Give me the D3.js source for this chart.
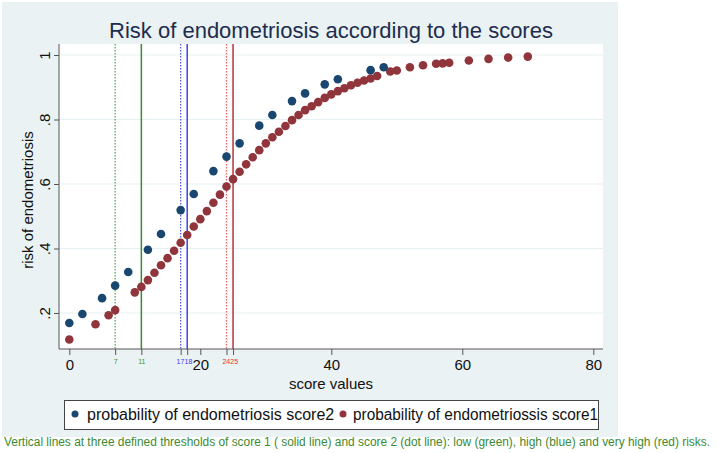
<!DOCTYPE html>
<html><head><meta charset="utf-8">
<script src="https://cdn.jsdelivr.net/npm/d3@7"></script>
<style>body{margin:0;background:#fff}svg{display:block}text{font-family:"Liberation Sans",Arial,sans-serif}</style>
</head><body><svg id="c" width="722" height="453"></svg>
<script>
const score2X = [0,2,5,7,9,12,14,17,19,22,24,26,29,31,34,36,39,41,46,48];
const score2Y = [0.169,0.197,0.246,0.285,0.327,0.396,0.445,0.519,0.569,0.640,0.685,0.726,0.781,0.814,0.857,0.881,0.909,0.925,0.953,0.962];
const score1X = [0,4,6,7,10,11,12,13,14,15,16,17,18,19,20,21,22,23,24,25,26,27,28,29,30,31,32,33,34,35,36,37,38,39,40,41,42,43,44,45,46,47,49,50,52,54,56,57,58,61,64,67,70];
const score1Y = [0.118,0.165,0.193,0.209,0.264,0.281,0.302,0.325,0.348,0.370,0.393,0.418,0.442,0.468,0.491,0.516,0.542,0.567,0.592,0.615,0.638,0.661,0.683,0.705,0.726,0.745,0.762,0.780,0.798,0.814,0.829,0.841,0.854,0.867,0.878,0.888,0.897,0.906,0.914,0.921,0.927,0.935,0.949,0.952,0.962,0.968,0.973,0.974,0.976,0.983,0.988,0.992,0.995];
const xTicks = [0,20,40,60,80];
const yTicks = [0.2,0.4,0.6,0.8,1];
const yTickLabels = [".2",".4",".6",".8","1"];
const thresholds = [
  {v:7, style:"dot", color:"#4fae4f", label:"7", lc:"#2f9a2f", anchor:"middle"},
  {v:11, style:"solid", color:"#3a8a2e", label:"11", lc:"#2f9a2f", anchor:"middle"},
  {v:17, style:"dot", color:"#5a5cf5", label:"17", lc:"#3a3cf5", anchor:"end"},
  {v:18, style:"solid", color:"#3c44f0", label:"18", lc:"#3a3cf5", anchor:"start"},
  {v:24, style:"dot", color:"#f06565", label:"24", lc:"#ee3030", anchor:"end"},
  {v:25, style:"solid", color:"#b8323a", label:"25", lc:"#ee3030", anchor:"start"}
];
const title = "Risk of endometriosis according to the scores";
const legendLabels = ["probability of endometriosis score2","probability of endometriossis score1"];
const footnote = "Vertical lines at three defined thresholds of score 1 ( solid line) and score 2 (dot line): low (green), high (blue) and very high (red) risks.";

const svg = d3.select("#c");
const blue = "#1a476f", red = "#90353b";
const plot = {l:59, r:603, t:44, b:349};
const x = d3.scaleLinear().domain([0,80]).range([69.3,593.3]);
const y = d3.scaleLinear().domain([0.2,1]).range([313,55]);

// background
svg.append("rect").attr("x",2).attr("y",2).attr("width",616).attr("height",435).attr("fill","#eaf2f3");
svg.append("rect").attr("x",plot.l).attr("y",plot.t).attr("width",plot.r-plot.l).attr("height",plot.b-plot.t).attr("fill","#fff");

// grid
svg.append("g").selectAll("line").data(yTicks).join("line")
  .attr("x1",plot.l).attr("x2",plot.r).attr("y1",d=>y(d)).attr("y2",d=>y(d))
  .attr("stroke","#e6eff1").attr("stroke-width",1);

// title
svg.append("text").attr("x",331).attr("y",37.5).attr("text-anchor","middle")
  .attr("font-size",22).attr("fill","#1e2d4f").text(title);

// vertical threshold lines
svg.append("g").selectAll("line").data(thresholds).join("line")
  .attr("x1",d=>x(d.v)).attr("x2",d=>x(d.v)).attr("y1",plot.t).attr("y2",plot.b)
  .attr("stroke",d=>d.color).attr("stroke-width",d=>d.style==="dot"?1.3:1.5)
  .attr("stroke-dasharray",d=>d.style==="dot"?"1.5,1.5":null);

// points
svg.append("g").selectAll("circle").data(score1X.map((v,i)=>[v,score1Y[i]])).join("circle")
  .attr("cx",d=>x(d[0])).attr("cy",d=>y(d[1])).attr("r",4.3).attr("fill",red);
svg.append("g").selectAll("circle").data(score2X.map((v,i)=>[v,score2Y[i]])).join("circle")
  .attr("cx",d=>x(d[0])).attr("cy",d=>y(d[1])).attr("r",4.3).attr("fill",blue);

// axes
const xAxis = svg.append("g").attr("transform",`translate(0,${plot.b})`)
  .call(d3.axisBottom(x).tickValues(xTicks).tickSize(6).tickPadding(4).tickFormat(d3.format("d")));
xAxis.select(".domain").attr("d",`M${plot.l},0H${plot.r}`).attr("stroke","#555");
xAxis.selectAll(".tick line").attr("stroke","#555");
xAxis.selectAll(".tick text").attr("font-size",15).attr("fill","#111").attr("font-family","Liberation Sans, Arial, sans-serif");

const tAxis = svg.append("g").attr("transform",`translate(0,${plot.b})`)
  .call(d3.axisBottom(x).tickValues(thresholds.map(d=>d.v)).tickSize(6).tickPadding(3).tickFormat((d,i)=>thresholds[i].label));
tAxis.select(".domain").remove();
tAxis.selectAll(".tick line").attr("stroke","#555");
tAxis.selectAll(".tick text").attr("font-size",7).attr("font-family","Liberation Sans, Arial, sans-serif")
  .attr("fill",(d,i)=>thresholds[i].lc).attr("dy","0.9em")
  .attr("text-anchor",(d,i)=>thresholds[i].anchor)
  .attr("x",(d,i)=>thresholds[i].anchor==="end"?3.2:(thresholds[i].anchor==="start"?-3.2:0));

const yAxis = svg.append("g").attr("transform",`translate(${plot.l},0)`)
  .call(d3.axisLeft(y).tickValues(yTicks).tickSize(5).tickFormat((d,i)=>yTickLabels[i]));
yAxis.select(".domain").attr("d",`M0,${plot.t}V${plot.b}`).attr("stroke","#555");
yAxis.selectAll(".tick line").attr("stroke","#555");
yAxis.selectAll(".tick text").attr("font-size",15).attr("fill","#111").attr("font-family","Liberation Sans, Arial, sans-serif")
  .attr("transform","rotate(-90)").attr("x",0).attr("y",-9).attr("dy","0").attr("text-anchor","middle");

// axis titles
svg.append("text").attr("x",331).attr("y",389).attr("text-anchor","middle").attr("font-size",15).attr("fill","#111").text("score values");
svg.append("text").attr("transform","translate(33,200) rotate(-90)").attr("text-anchor","middle").attr("font-size",15).attr("fill","#111").text("risk of endometriosis");

// legend
svg.append("rect").attr("x",64.5).attr("y",400.5).attr("width",534).attr("height",29).attr("fill","#fff").attr("stroke","#444").attr("stroke-width",1);
svg.append("circle").attr("cx",75).attr("cy",414).attr("r",3.5).attr("fill",blue);
svg.append("text").attr("x",87).attr("y",420).attr("font-size",16).attr("fill","#111").text(legendLabels[0]);
svg.append("circle").attr("cx",343).attr("cy",414).attr("r",3.5).attr("fill",red);
svg.append("text").attr("x",353).attr("y",420).attr("font-size",16).attr("fill","#111")
  .attr("textLength",245).attr("lengthAdjust","spacingAndGlyphs").text(legendLabels[1]);

// footnote
svg.append("text").attr("x",4).attr("y",446).attr("font-size",12).attr("fill","#3c8a32")
  .style("font-family","'Liberation Sans Narrow','Arial Narrow','Liberation Sans',sans-serif")
  .attr("textLength",706).attr("lengthAdjust","spacingAndGlyphs").text(footnote);
</script></body></html>
